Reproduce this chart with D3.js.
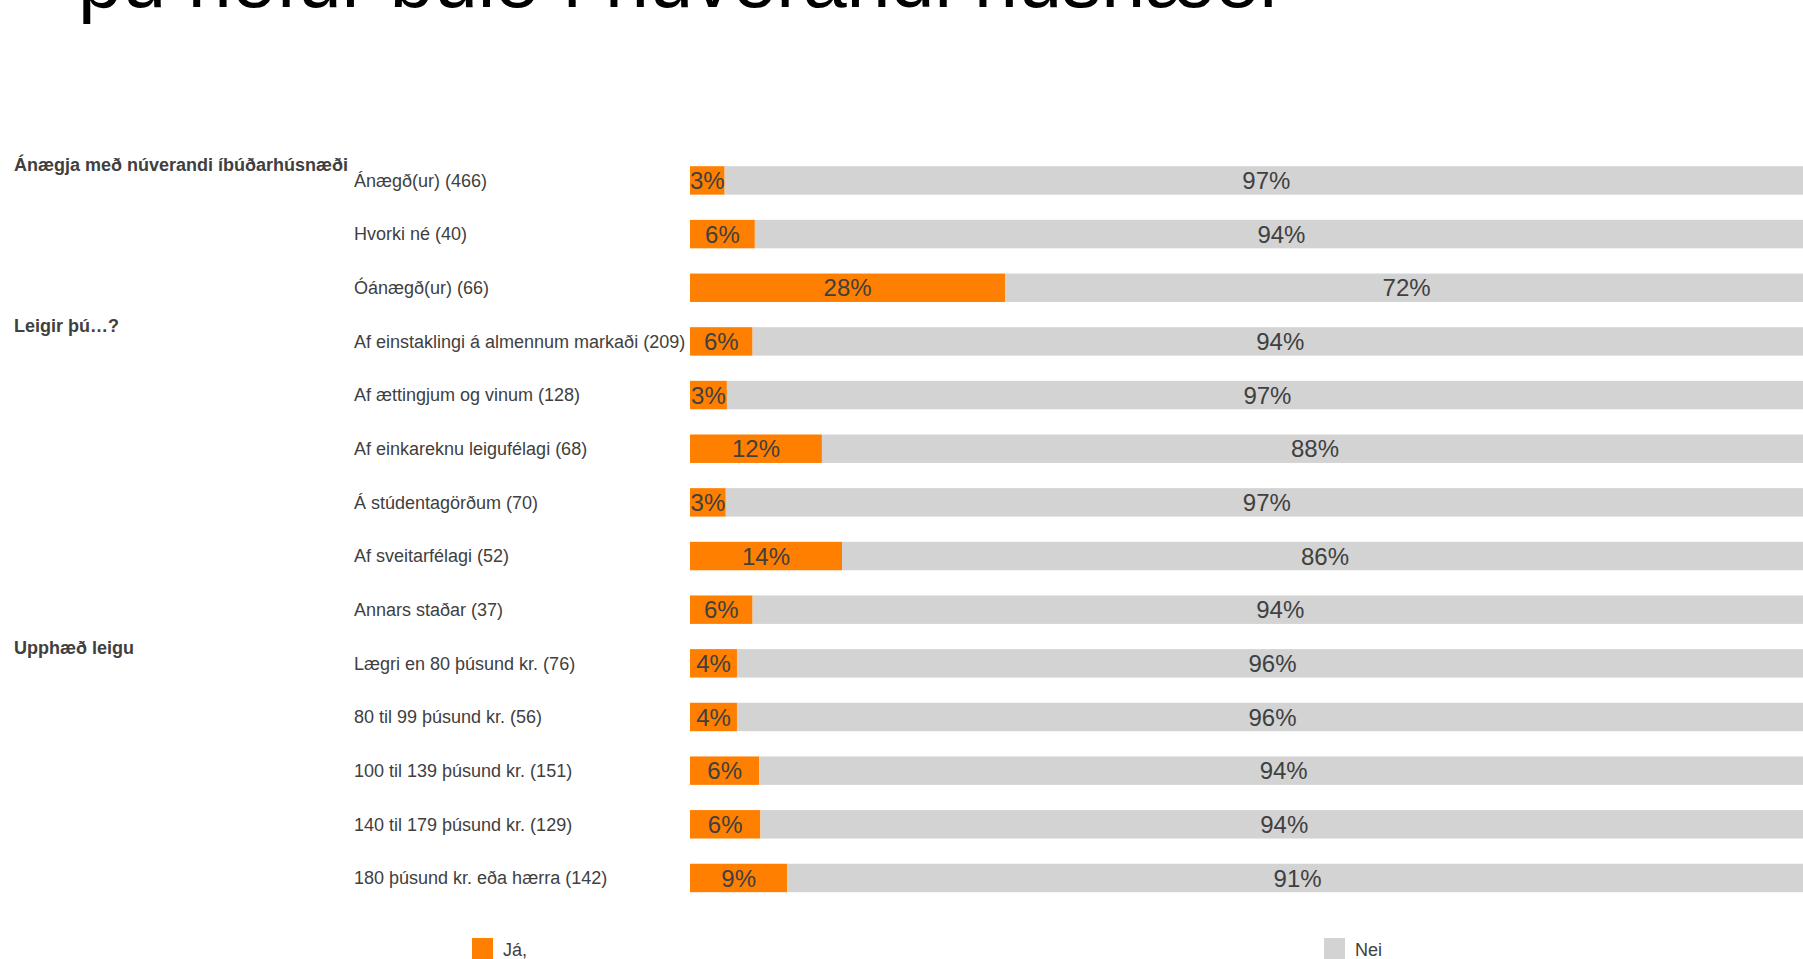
<!DOCTYPE html>
<html>
<head>
  <meta charset="utf-8"/>
  <style>
    body { margin: 0; background: #fff; }
    svg { display: block; }
    text { font-family: "Liberation Sans", Arial, sans-serif; }
  </style>
</head>
<body>
  <div id="chart"></div>
  <script src="https://d3js.org/d3.v7.min.js"></script>
  <script>
    // data
    let categories = [
      'Ánægð(ur) (466)', 'Hvorki né (40)', 'Óánægð(ur) (66)',
      'Af einstaklingi á almennum markaði (209)', 'Af ættingjum og vinum (128)',
      'Af einkareknu leigufélagi (68)', 'Á stúdentagörðum (70)', 'Af sveitarfélagi (52)',
      'Annars staðar (37)', 'Lægri en 80 þúsund kr. (76)', '80 til 99 þúsund kr. (56)',
      '100 til 139 þúsund kr. (151)', '140 til 179 þúsund kr. (129)', '180 þúsund kr. eða hærra (142)'
    ];
    let groups = ['Ánægja með núverandi íbúðarhúsnæði', 'Leigir þú…?', 'Upphæð leigu'];
    let groupStart = [0, 3, 9];
    let series = ['Já,', 'Nei'];
    let yes = [3.1, 5.8, 28.2, 5.6, 3.3, 11.8, 3.2, 13.6, 5.6, 4.2, 4.2, 6.2, 6.3, 8.7];
    let no = [96.9, 94.2, 71.8, 94.4, 96.7, 88.2, 96.8, 86.4, 94.4, 95.8, 95.8, 93.8, 93.7, 91.3];
    let yesLabels = ['3%', '6%', '28%', '6%', '3%', '12%', '3%', '14%', '6%', '4%', '4%', '6%', '6%', '9%'];
    let noLabels = ['97%', '94%', '72%', '94%', '97%', '88%', '97%', '86%', '94%', '96%', '96%', '94%', '94%', '91%'];
    let title = 'þú hefur búið í núverandi húsnæði';

    let width = 1803,
        height = 959;

    let colors = d3.scaleOrdinal(series, ['#ff7f00', '#d3d3d3']);

    let svg = d3.select('#chart')
        .append('svg')
        .attr('width', width)
        .attr('height', height);

    let x = d3.scaleLinear().domain([0, 100]).range([690, 1808]);
    let y = d3.scaleBand()
        .domain(categories)
        .range([141, 917.4])
        .padding(0.47);

    // title (mostly above the visible area)
    svg.append('text')
        .attr('x', 78)
        .attr('y', 7)
        .attr('font-size', 79)
        .attr('fill', '#000')
        .text(title);

    let rows = categories.map((c, i) => ({
      cat: c, yes: yes[i], no: no[i], yl: yesLabels[i], nl: noLabels[i]
    }));

    let stack = d3.stack().keys(['yes', 'no']);
    let layers = stack(rows);

    svg.append('g')
        .selectAll('g')
        .data(layers)
        .join('g')
        .attr('fill', (d, i) => colors(series[i]))
        .selectAll('rect')
        .data(d => d)
        .join('rect')
        .attr('x', d => x(d[0]))
        .attr('width', d => x(d[1]) - x(d[0]))
        .attr('y', d => y(d.data.cat))
        .attr('height', y.bandwidth());

    // value labels
    layers.forEach((layer, k) => {
      svg.append('g')
          .selectAll('text')
          .data(layer)
          .join('text')
          .attr('x', d => x((d[0] + d[1]) / 2))
          .attr('y', d => y(d.data.cat) + y.bandwidth() / 2)
          .attr('dy', '0.36em')
          .attr('text-anchor', 'middle')
          .attr('font-size', 24)
          .attr('fill', '#404040')
          .text(d => k === 0 ? d.data.yl : d.data.nl);
    });

    // row labels
    svg.append('g')
        .selectAll('text')
        .data(categories)
        .join('text')
        .attr('x', 354)
        .attr('y', d => y(d) + y.bandwidth() / 2)
        .attr('dy', '0.35em')
        .attr('font-size', 18)
        .attr('fill', '#404040')
        .text(d => d);

    // group labels
    svg.append('g')
        .selectAll('text')
        .data(groups)
        .join('text')
        .attr('x', 14)
        .attr('y', (d, i) => y(categories[groupStart[i]]) + y.bandwidth() / 2 - 16)
        .attr('dy', '0.35em')
        .attr('font-size', 18)
        .attr('font-weight', 'bold')
        .attr('fill', '#404040')
        .text(d => d);

    // legend
    let lx = d3.scalePoint().domain(series).range([472, 1324]);
    let legend = svg.append('g')
        .selectAll('g')
        .data(series)
        .join('g')
        .attr('transform', d => 'translate(' + lx(d) + ',938)');

    legend.append('rect')
        .attr('width', 21)
        .attr('height', 21)
        .attr('fill', d => colors(d));

    legend.append('text')
        .attr('x', 31)
        .attr('y', 12)
        .attr('dy', '0.35em')
        .attr('font-size', 18)
        .attr('fill', '#404040')
        .text(d => d);
  </script>
</body>
</html>
